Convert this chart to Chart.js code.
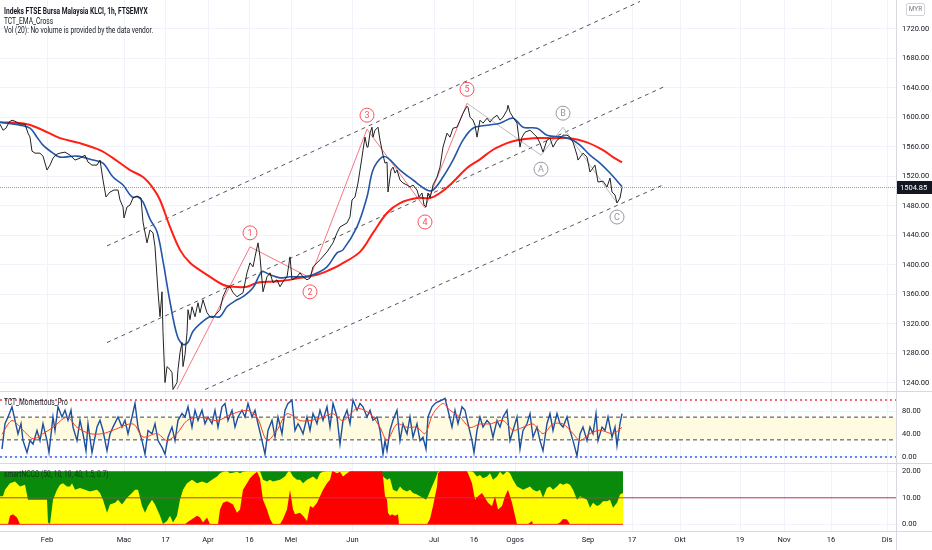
<!DOCTYPE html>
<html lang="ms">
<head>
<meta charset="UTF-8">
<title>Indeks FTSE Bursa Malaysia KLCI, 1h</title>
<script src="https://cdn.jsdelivr.net/npm/chart.js"></script>
<style>
    body { margin: 0; background: #fff; overflow: hidden; }
    .wrap { position: relative; width: 932px; height: 550px; }
    .lbl {
        position: absolute; left: 4px; white-space: nowrap;
        font: 8.5px/10px Roboto, sans-serif;
        color: #131722;
        transform: scaleX(0.78); transform-origin: left center;
    }
    .myr {
        position: absolute; left: 906px; top: 3px; width: 17px; height: 11px;
        border: 1px solid #d1d4dc; border-radius: 2px;
        font: 6.5px/11px Roboto, sans-serif; color: #787b86; text-align: center;
    }
</style>
</head>
<body>
<div class="wrap">
    <canvas id="grafico" width="932" height="550"></canvas>
    <div class="lbl" style="top:6px;font-weight:bold">Indeks FTSE Bursa Malaysia KLCI, 1h, FTSEMYX</div>
    <div class="lbl" style="top:16px">TCT_EMA_Cross</div>
    <div class="lbl" style="top:25px">Vol (20): No volume is provided by the data vendor.</div>
    <div class="lbl" style="top:397px">TCT_Momentous_Pro</div>
    <div class="lbl" style="top:469px;color:rgba(19,23,34,0.75)">smartNCCO (50, 10, 10, 40, 1.5, 0.7)</div>
    <div class="myr">MYR</div>
</div>

<script>
// time axis: bar index (compressed trading time), labels where TradingView puts them
const X_MAX = 896;
const timeTicks  = [47, 124, 165.5, 208, 249.5, 291, 352.5, 434, 474, 515, 588, 632, 680, 740, 784, 831, 887];
const timeLabels = ['Feb', 'Mac', '17', 'Apr', '16', 'Mei', 'Jun', 'Jul', '16', 'Ogos', 'Sep', '17', 'Okt', '19', 'Nov', '16', 'Dis'];

const priceTicks = [1240, 1280, 1320, 1360, 1400, 1440, 1480, 1520, 1560, 1600, 1640, 1680, 1720];
const momTicks = [0, 40, 80];
const nccoTicks = [0, 10, 20];

// KLCI close [bar, price]
const priceSeries = [
    [0,1590.7],[3,1582.5],[6,1585.2],[9,1593.4],[12,1596.1],[15,1594.7],[20,1590.7],[25,1590.7],[28,1578.5],[30,1573.1],
    [32,1554.1],[35,1551.4],[40,1551.4],[43,1547.4],[47,1528.5],[50,1535.2],[53,1544.7],[57,1550.1],[60,1551.4],[65,1552.8],
    [70,1548.7],[75,1542.0],[80,1544.7],[85,1548.7],[88,1539.3],[92,1535.2],[97,1535.2],[100,1542.0],[103,1514.9],[106,1492.0],
    [110,1498.7],[114,1501.4],[118,1501.4],[120,1487.9],[123,1478.4],[124,1463.6],[127,1478.4],[130,1481.1],[133,1490.6],[137,1493.3],
    [141,1490.6],[143,1458.2],[147,1429.8],[150,1447.3],[153,1443.3],[155,1424.4],[158,1363.5],[160,1329.7],[162,1363.5],[163,1308.0],
    [165,1240.5],[167,1262.1],[170,1258.1],[172,1254.0],[173,1231.0],[177,1240.5],[178,1258.1],[180,1281.0],[182,1294.6],[183,1262.1],
    [185,1278.3],[187,1308.0],[188,1339.2],[190,1325.7],[192,1343.2],[195,1329.7],[198,1348.6],[200,1335.1],[203,1352.7],[207,1335.1],
    [210,1329.7],[213,1328.4],[220,1339.2],[223,1356.8],[227,1368.9],[230,1370.3],[233,1362.2],[237,1356.8],[240,1359.5],[243,1362.2],
    [247,1389.2],[250,1402.7],[253,1397.3],[255,1410.8],[258,1429.8],[260,1410.8],[263,1363.5],[267,1383.8],[270,1389.2],[273,1375.7],
    [277,1379.7],[280,1370.3],[283,1377.0],[287,1383.8],[290,1410.8],[292,1379.7],[297,1383.8],[300,1389.2],[303,1383.8],[307,1379.7],
    [310,1382.0],[313,1397.3],[320,1406.8],[327,1417.6],[333,1429.8],[337,1443.3],[340,1451.4],[347,1456.8],[350,1465.0],[352,1487.9],
    [355,1492.0],[358,1510.9],[360,1528.5],[362,1546.0],[363,1555.5],[365,1573.1],[367,1559.6],[368,1559.6],[370,1578.5],[372,1586.6],
    [373,1573.1],[375,1582.5],[378,1586.6],[380,1569.0],[382,1555.5],[383,1548.7],[385,1537.9],[387,1539.3],[388,1498.7],[391,1528.5],
    [393,1532.5],[395,1524.4],[397,1528.5],[400,1515.0],[403,1510.9],[407,1508.2],[410,1505.5],[413,1508.2],[417,1501.4],[419,1492.0],
    [422,1497.4],[424,1481.1],[426,1478.4],[428,1497.4],[430,1490.6],[432,1501.4],[433,1508.2],[437,1519.0],[440,1532.5],[443,1559.6],
    [447,1578.5],[450,1573.1],[453,1585.2],[457,1586.6],[460,1596.1],[463,1605.5],[467,1615.0],[468,1613.6],[470,1600.1],[473,1596.1],
    [475,1589.3],[477,1573.1],[480,1596.1],[483,1592.0],[487,1598.8],[490,1593.4],[493,1598.8],[497,1602.8],[500,1596.1],[503,1600.1],
    [507,1609.6],[508,1616.3],[510,1606.9],[513,1600.1],[517,1592.0],[520,1559.6],[522,1573.1],[525,1579.8],[530,1582.5],[533,1578.5],
    [537,1573.1],[540,1565.0],[543,1552.8],[547,1569.0],[550,1571.7],[553,1559.6],[557,1569.0],[560,1571.7],[563,1575.8],[567,1575.8],
    [570,1573.1],[573,1566.3],[577,1548.7],[578,1542.0],[583,1551.4],[587,1546.0],[590,1525.8],[595,1535.2],[598,1512.2],[603,1513.5],
    [607,1505.5],[610,1517.6],[612,1498.7],[615,1494.7],[617,1483.8],[620,1490.6],[622,1504.85]
];

// TCT_EMA_Cross: fast (blue) and slow (red)
const emaFast = [
    [0,1593.4],[20,1589.3],[30,1585.2],[37,1573.1],[43,1562.3],[53,1551.4],[60,1546.0],[77,1547.4],[93,1542.0],[103,1537.9],
    [113,1519.0],[123,1508.2],[132,1492.0],[138,1492.0],[143,1485.2],[150,1462.0],[157,1445.0],[163,1405.0],[170,1350.0],[177,1305.0],
    [183,1292.0],[188,1295.0],[193,1310.0],[200,1320.0],[210,1329.7],[220,1329.7],[227,1343.2],[237,1352.7],[243,1356.8],[253,1368.9],
    [262,1390.6],[270,1386.5],[280,1382.4],[290,1383.8],[303,1383.8],[313,1386.5],[327,1397.3],[337,1416.2],[343,1420.3],[357,1451.4],
    [367,1492.0],[373,1528.5],[382,1546.0],[388,1544.7],[400,1528.5],[413,1515.0],[427,1501.4],[433,1501.4],[443,1519.0],[453,1542.0],
    [463,1569.0],[473,1585.2],[487,1589.3],[500,1592.0],[513,1598.8],[523,1586.6],[537,1585.2],[547,1575.8],[563,1573.1],[573,1569.0],
    [580,1562.3],[590,1548.7],[600,1537.9],[610,1524.4],[622,1506.0]
];
const emaSlow = [
    [0,1593.4],[27,1590.7],[43,1582.5],[60,1571.7],[80,1565.0],[100,1555.5],[113,1544.7],[130,1528.5],[143,1519.0],[153,1504.1],
    [160,1487.9],[170,1451.4],[180,1420.3],[190,1402.7],[207,1386.5],[223,1373.0],[233,1370.3],[247,1370.3],[257,1375.7],[267,1377.0],
    [283,1378.4],[300,1382.4],[317,1386.5],[330,1393.3],[340,1400.0],[360,1417.6],[373,1443.3],[387,1470.3],[400,1483.8],[417,1490.6],
    [430,1490.6],[440,1497.4],[453,1512.2],[467,1531.2],[480,1543.0],[493,1556.0],[507,1565.0],[517,1569.0],[533,1571.7],[553,1571.7],
    [570,1571.7],[587,1566.0],[603,1555.5],[613,1546.0],[622,1539.0]
];

// drawings: parallel channel, impulse 1-5, correction A-B-C
const channelUpper = [[107,1425.7],[640,1757.0]];
const channelMid   = [[107,1294.6],[665,1642.0]];
const channelLow   = [[205,1231.0],[665,1509.5]];
const waveNames = ['', '1', '2', '3', '4', '5'];
const wavePoints = [[177,1231.0],[250,1424.4],[310,1382.4],[367,1583.9],[425,1477.1],[467,1619.0]];
const abcNames = ['', 'A', 'B', 'C'];
const abcPoints = [[467,1619.0],[541,1548.7],[563,1586.6],[617,1483.8]];

// TCT_Momentous_Pro
const momLevels = { upper: 100, bandHigh: 70, bandLow: 30, lower: 0 };
const momentum = [
    [2,13.8],[5,58.4],[8,70.3],[12,88.2],[15,64.4],[18,40.6],[21,58.4],[23,28.7],[27,7.8],[30,28.7],
    [33,22.7],[37,46.5],[40,28.7],[43,58.4],[47,28.7],[49,7.8],[53,70.3],[55,46.5],[58,88.2],[62,70.3],
    [65,82.2],[68,64.4],[71,82.2],[73,52.5],[77,28.7],[80,64.4],[83,40.6],[86,10.8],[88,58.4],[92,7.8],
    [97,52.5],[100,64.4],[103,46.5],[107,10.8],[110,40.6],[113,52.5],[118,70.3],[122,52.5],[125,64.4],[128,40.6],
    [132,70.3],[135,94.1],[138,52.5],[142,28.7],[145,4.9],[148,46.5],[152,40.6],[155,58.4],[158,28.7],[162,16.8],
    [165,4.9],[168,34.6],[172,52.5],[175,28.7],[178,64.4],[182,76.3],[185,70.3],[188,88.2],[192,52.5],[195,82.2],
    [198,64.4],[202,82.2],[205,58.4],[208,70.3],[212,58.4],[215,82.2],[218,52.5],[222,88.2],[225,94.1],[228,64.4],
    [232,82.2],[235,52.5],[238,70.3],[242,82.2],[245,70.3],[248,94.1],[252,70.3],[255,82.2],[258,58.4],[262,28.7],
    [265,4.9],[268,46.5],[272,64.4],[275,34.6],[278,70.3],[282,40.6],[285,82.2],[288,94.1],[292,100],[295,46.5],
    [298,58.4],[300,52.5],[303,40.6],[307,70.3],[310,46.5],[313,76.3],[317,58.4],[320,82.2],[323,64.4],[327,88.2],
    [330,52.5],[333,94.1],[337,70.3],[340,22.7],[343,64.4],[347,82.2],[350,58.4],[353,100],[357,82.2],[360,94.1],
    [363,88.2],[367,70.3],[370,82.2],[373,64.4],[377,70.3],[380,46.5],[383,4.9],[385,28.7],[387,10.8],[390,46.5],
    [393,64.4],[397,82.2],[400,28.7],[403,58.4],[407,40.6],[410,70.3],[413,34.6],[417,58.4],[420,28.7],[423,34.6],
    [426,13.8],[428,70.3],[432,88.2],[435,94.1],[438,97.1],[442,100],[445,103],[448,82.2],[452,52.5],[455,82.2],
    [458,58.4],[462,88.2],[465,82.2],[468,58.4],[472,28.7],[474,7.8],[477,46.5],[480,70.3],[483,52.5],[487,64.4],
    [490,58.4],[493,34.6],[497,64.4],[500,52.5],[503,70.3],[507,82.2],[510,28.7],[513,46.5],[517,70.3],[520,13.8],
    [523,46.5],[527,58.4],[530,76.3],[533,34.6],[537,52.5],[540,28.7],[543,10.8],[547,58.4],[550,76.3],[553,46.5],
    [557,76.3],[560,58.4],[563,52.5],[567,70.3],[570,46.5],[573,28.7],[577,1.9],[580,40.6],[583,52.5],[587,28.7],
    [590,52.5],[593,40.6],[596,76.3],[598,28.7],[602,52.5],[605,46.5],[608,70.3],[612,34.6],[615,52.5],[617,19.7],
    [620,58.4],[622,76.3]
];
const momSignal = [
    [2,40],[12,64],[23,47],[33,32],[43,41],[53,52],[67,70],[77,52],[90,41],[103,41],[113,47],[133,58],[143,35],
    [157,41],[167,29],[177,41],[187,64],[200,70],[217,64],[233,76],[247,82],[257,70],[267,29],[277,47],[287,76],
    [300,64],[310,64],[323,70],[333,76],[343,64],[357,85],[370,76],[380,52],[387,29],[397,58],[407,52],[417,52],
    [425,41],[433,76],[443,94],[450,82],[460,70],[470,52],[480,58],[490,58],[503,64],[513,47],[523,52],[533,58],
    [543,41],[553,58],[563,58],[573,41],[580,29],[590,41],[600,47],[613,41],[622,52]
];

// smartNCCO: green ceiling, yellow and red columns
const nccoMid = 10;
const nccoGreen = [[0,20],[623,20]];
const nccoYellow = [
    [0,10.6],[3,10.6],[5,13.0],[10,15.5],[15,16.1],[20,14.3],[25,14.9],[28,9.3],[33,9.3],[40,9.3],
    [47,9.3],[48,0.7],[50,0.1],[53,9.3],[57,13.0],[60,14.9],[63,15.5],[67,14.3],[70,14.3],[72,15.5],
    [75,13.0],[80,13.7],[85,13.0],[90,12.4],[97,13.0],[100,11.8],[103,9.3],[107,4.4],[110,7.5],[115,8.1],
    [118,9.3],[122,7.5],[127,10.0],[132,11.8],[135,13.0],[138,13.0],[142,6.9],[145,4.4],[148,6.9],[152,9.3],
    [155,7.5],[160,3.2],[163,0.1],[167,1.3],[170,3.2],[173,0.7],[177,3.2],[180,9.3],[183,13.0],[187,15.5],
    [192,16.8],[197,15.5],[202,16.1],[207,15.5],[212,16.8],[217,18.0],[220,19.2],[223,19.8],[227,20],[230,19.2],
    [233,19.4],[237,19.8],[240,19.2],[243,19.8],[247,20],[260,20],[263,16.8],[267,16.1],[270,16.8],[273,16.1],
    [280,16.8],[285,18.0],[288,19.8],[290,20],[293,18.0],[297,16.8],[300,16.8],[303,15.5],[307,16.8],[310,17.4],
    [313,18.0],[317,16.8],[320,19.2],[323,19.8],[327,20],[380,20],[383,18.0],[387,16.8],[390,17.4],[393,13.0],
    [397,12.4],[400,14.3],[403,13.0],[407,12.4],[410,13.0],[413,11.8],[417,11.2],[420,10.6],[423,10.0],[426,9.3],
    [428,10.6],[432,14.3],[435,16.8],[438,19.8],[440,20],[470,20],[473,19.8],[477,18.0],[480,18.6],[483,17.4],
    [487,18.0],[490,19.2],[493,16.8],[497,18.0],[500,19.8],[503,18.6],[507,20],[510,19.2],[513,16.8],[517,14.3],
    [520,13.7],[523,13.0],[527,13.7],[530,14.3],[533,13.0],[537,12.4],[540,13.0],[543,10.0],[547,13.7],[550,14.3],
    [553,13.0],[557,14.3],[560,15.5],[563,14.9],[567,15.5],[570,14.9],[573,13.0],[577,9.3],[580,10.6],[583,10.0],
    [587,9.3],[590,6.3],[593,8.1],[597,6.9],[600,7.5],[603,8.7],[607,8.7],[610,9.3],[613,6.3],[617,8.1],
    [620,11.2],[623,11.8]
];
const nccoRed = [
    [0,0],[8,0],[10,3.2],[13,3.8],[17,2.6],[20,0],[185,0],[187,0.7],[197,3.2],[200,2.6],
    [203,0.7],[207,2.6],[210,0],[218,0],[220,5.6],[223,8.1],[227,8.7],[230,8.1],[233,7.5],[237,4.4],
    [240,5.6],[243,13.0],[247,15.5],[250,17.4],[253,18.6],[257,19.8],[260,17.4],[263,9.3],[267,5.6],[270,2.0],
    [273,0],[280,0],[283,2.0],[287,5.6],[290,13.0],[293,5.6],[295,3.8],[300,4.4],[303,3.2],[307,1.3],
    [310,6.9],[313,6.3],[317,8.1],[320,10.6],[323,13.0],[327,15.5],[330,16.8],[332,19.8],[333,20],[337,19.2],
    [340,19.8],[343,18.0],[347,19.2],[350,20],[382,20],[383,18.0],[385,10.6],[387,9.3],[388,4.4],[390,3.2],
    [392,3.8],[395,3.2],[398,3.8],[399,0],[427,0],[430,2.0],[433,6.9],[437,14.3],[438,19.2],[440,20],
    [467,20],[468,19.2],[472,15.5],[475,9.3],[478,10.6],[482,11.8],[485,10.0],[488,8.1],[492,6.9],[495,10.6],
    [498,5.6],[502,6.9],[505,10.6],[508,13.0],[512,8.1],[515,3.2],[517,0],[528,0],[530,0.7],[532,1.3],
    [533,0],[557,0],[560,0.7],[563,2.0],[567,1.8],[570,0],[623,0]
];

const lastPrice = priceSeries[priceSeries.length - 1][1];

const AXIS_FONT = { family: 'Roboto, sans-serif', size: 7.5 };
Chart.defaults.font.family = 'Roboto, sans-serif';
Chart.defaults.font.size = 7.5;
Chart.defaults.color = '#131722';

function pts(arr) { return arr.map(([x, y]) => ({ x, y })); }
function flat(y, x0, x1) { return [{ x: x0, y }, { x: x1, y }]; }
function serie(data, yAxisID, color, width, order, extra) {
    return Object.assign({
        data, yAxisID, borderColor: color, borderWidth: width, order,
        pointRadius: 0, fill: false, tension: 0, spanGaps: true
    }, extra || {});
}

const datasets = [
    // price pane
    serie(pts(priceSeries), 'yP', '#222', 1, 10),
    serie(pts(emaFast), 'yP', '#2455a6', 1.6, 20, { tension: 0.35 }),
    serie(pts(emaSlow), 'yP', '#ff1f14', 2, 30, { tension: 0.35 }),
    serie(pts(wavePoints), 'yP', 'rgba(247,82,95,0.8)', 1, 40),
    serie(pts(abcPoints), 'yP', '#b8bbc3', 1, 40),
    serie(pts(channelUpper), 'yP', '#555', 1, 50, { borderDash: [4, 4] }),
    serie(pts(channelMid), 'yP', '#555', 1, 50, { borderDash: [4, 4] }),
    serie(pts(channelLow), 'yP', '#555', 1, 50, { borderDash: [4, 4] }),
    serie(flat(lastPrice, 0, X_MAX), 'yP', '#9598a1', 1, 60, { borderDash: [1, 1] }),

    // momentum pane
    serie(flat(momLevels.bandHigh, 0, X_MAX), 'yM', '#444', 1, 100,
        { borderDash: [4, 3], fill: { value: momLevels.bandLow }, backgroundColor: '#fffbe0' }),
    serie(flat(momLevels.bandLow, 0, X_MAX), 'yM', '#444', 1, 99, { borderDash: [4, 3] }),
    serie(flat(momLevels.upper, 0, X_MAX), 'yM', '#f23645', 1.5, 98, { borderDash: [2, 3] }),
    serie(flat(momLevels.lower, 0, X_MAX), 'yM', '#2962ff', 1.5, 98, { borderDash: [2, 3] }),
    serie(pts(momentum), 'yM', '#1d4f9f', 1.4, 80),
    serie(pts(momSignal), 'yM', '#ff3b1f', 1, 70, { tension: 0.3 }),

    // smartNCCO pane
    serie(pts(nccoGreen), 'yV', '#0a8a0a', 0, 200, { fill: { value: 0 }, backgroundColor: '#0a8a0a' }),
    serie(pts(nccoYellow), 'yV', '#ffff00', 0, 190, { fill: { value: 0 }, backgroundColor: '#ffff00' }),
    serie(pts(nccoRed), 'yV', '#ff0000', 0, 180, { fill: { value: 0 }, backgroundColor: '#ff0000' }),
    serie(flat(0, 0, nccoGreen[1][0]), 'yV', '#ff3030', 1, 175),
    serie(flat(nccoMid, 0, X_MAX), 'yV', '#b2336f', 1, 170)
];

function fixedTicks(values) {
    return function (axis) { axis.ticks = values.map(v => ({ value: v })); };
}
function rightAxis(weight, min, max, values) {
    return {
        type: 'linear', position: 'right', stack: 'panes', stackWeight: weight, min, max,
        afterBuildTicks: fixedTicks(values),
        afterFit: ax => { ax.width = 36; ax.paddingTop = 0; ax.paddingBottom = 0; },
        ticks: { autoSkip: false, padding: 6, color: '#131722', font: AXIS_FONT, callback: v => v.toFixed(2) },
        grid: { color: '#f0f3fa', drawTicks: false },
        border: { color: '#e0e3eb' }
    };
}

// circled wave labels + price tag + pane separators
const overlay = {
    id: 'overlay',
    afterDatasetsDraw(chart) {
        const { ctx, scales: { x, yP } } = chart;
        function circles(points, names, color) {
            ctx.save();
            ctx.font = '9px Roboto, sans-serif';
            ctx.textAlign = 'center';
            ctx.textBaseline = 'middle';
            for (let i = 1; i < points.length; i++) {
                const up = points[i][1] > points[i - 1][1];
                const px = x.getPixelForValue(points[i][0]);
                const py = yP.getPixelForValue(points[i][1]) + (up ? -14 : 14);
                ctx.beginPath();
                ctx.arc(px, py, 7, 0, Math.PI * 2);
                ctx.fillStyle = '#fff';
                ctx.fill();
                ctx.strokeStyle = color;
                ctx.lineWidth = 1;
                ctx.stroke();
                ctx.fillStyle = color;
                ctx.fillText(names[i], px, py + 0.5);
            }
            ctx.restore();
        }
        circles(wavePoints, waveNames, '#f7525f');
        circles(abcPoints, abcNames, '#9598a1');
    },
    afterDraw(chart) {
        const { ctx, scales: { x, yP, yM, yV } } = chart;
        ctx.save();
        ctx.strokeStyle = '#d6d9e0';
        ctx.lineWidth = 1;
        [yP.bottom, yM.bottom, yV.bottom].forEach(y => {
            ctx.beginPath();
            ctx.moveTo(0, Math.round(y) + 0.5);
            ctx.lineTo(932, Math.round(y) + 0.5);
            ctx.stroke();
        });
        ctx.beginPath();
        ctx.moveTo(Math.round(x.right) + 0.5, 0);
        ctx.lineTo(Math.round(x.right) + 0.5, 550);
        ctx.stroke();

        const py = yP.getPixelForValue(lastPrice);
        ctx.fillStyle = '#131722';
        ctx.fillRect(x.right + 1, py - 6.5, 932 - x.right - 1, 13);
        ctx.fillStyle = '#fff';
        ctx.font = '7.5px Roboto, sans-serif';
        ctx.textBaseline = 'middle';
        ctx.fillText(lastPrice.toFixed(2), x.right + 4, py + 0.5);
        ctx.restore();
    }
};

const ctx = document.getElementById('grafico').getContext('2d');
const grafico = new Chart(ctx, {
    type: 'line',
    data: { datasets },
    plugins: [overlay],
    options: {
        responsive: false,
        animation: false,
        events: [],
        layout: { padding: 0 },
        plugins: { legend: { display: false }, tooltip: { enabled: false } },
        scales: {
            x: {
                type: 'linear', position: 'bottom', min: 0, max: X_MAX,
                afterBuildTicks: fixedTicks(timeTicks),
                afterFit: ax => { ax.height = 19; ax.paddingLeft = 0; ax.paddingRight = 0; },
                ticks: {
                    autoSkip: false, maxRotation: 0, padding: 5, color: '#131722', font: AXIS_FONT,
                    callback: v => timeLabels[timeTicks.indexOf(v)]
                },
                grid: { color: '#f0f3fa', drawTicks: false },
                border: { color: '#e0e3eb' }
            },
            yP: rightAxis(391, 1229, 1759, priceTicks),
            yM: rightAxis(72, -10.7, 116, momTicks),
            yV: rightAxis(68, -2.5, 23.1, nccoTicks)
        }
    }
});
</script>
</body>
</html>
